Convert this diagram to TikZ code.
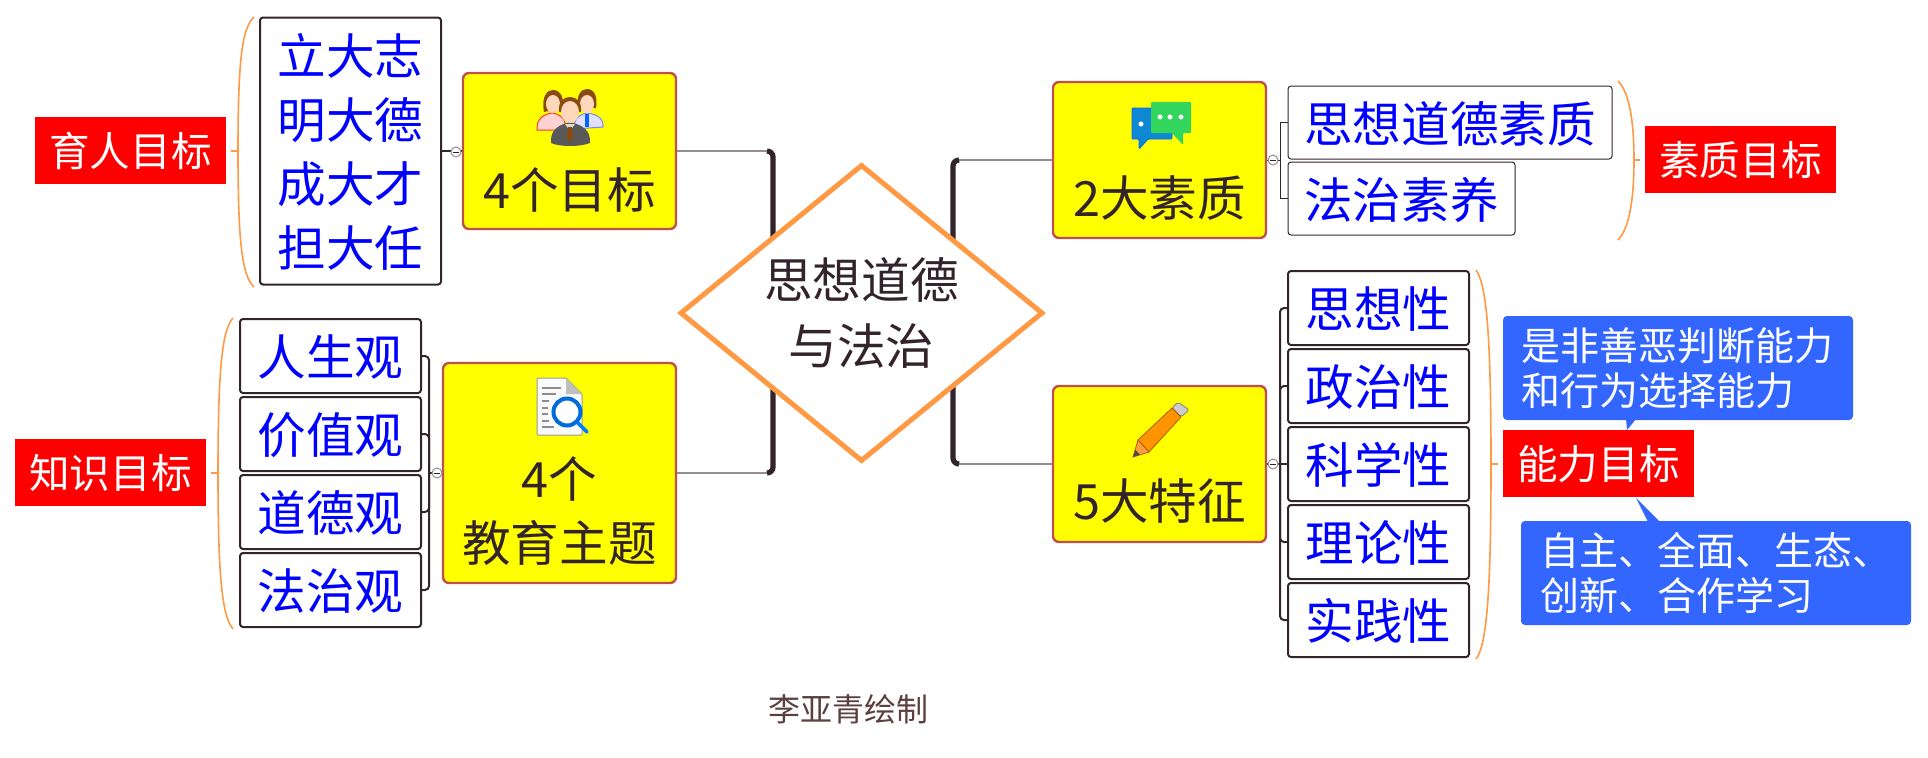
\documentclass[tikz,border=0pt]{standalone}
\usepackage{fontspec}
\setmainfont{Noto Sans CJK SC}
\usetikzlibrary{shapes.geometric}
\definecolor{inkdark}{HTML}{33242B}
\definecolor{goalred}{HTML}{C0504D}
\definecolor{goalfill}{RGB}{255,255,0}
\definecolor{bluenote}{HTML}{3366FF}
\definecolor{bracecolor}{HTML}{FF9944}
\definecolor{greyline}{HTML}{948E94}
\definecolor{footbrown}{HTML}{5C4040}
\definecolor{hairbrown}{HTML}{8A4A10}
\definecolor{skin}{HTML}{FFD8BC}
\tikzset{
  leafbox/.style={draw=inkdark, line width=1pt, fill=white, rounded corners=1.5pt, text=blue, text depth=1pt,
                  font=\fontsize{24.3}{32}\selectfont, align=center, inner sep=0pt},
  thinleaf/.style={leafbox, line width=0.5pt},
  goalbox/.style={draw=goalred, line width=1.2pt, fill=goalfill, rounded corners=3pt, inner sep=0pt},
  goaltext/.style={text=inkdark, text depth=1pt, font=\fontsize{24.3}{32}\selectfont, inner sep=0pt},
  redlabel/.style={fill=red, text=white, text depth=1pt, font=\fontsize{20.3}{24}\selectfont, inner sep=0pt,
                   minimum width=95.5pt, minimum height=33.5pt},
  bluecall/.style={fill=bluenote, text=white, rounded corners=2pt, align=left,
                   font=\fontsize{19.5}{22.5}\selectfont, inner ysep=0pt},
  forkline/.style={draw=inkdark, line width=1pt, rounded corners=2pt},
  thinfork/.style={draw=inkdark, line width=0.5pt},
  greyconn/.style={draw=greyline, line width=1pt},
  barline/.style={draw=inkdark, line width=2.6pt, rounded corners=3pt},
  bracket/.style={draw=bracecolor, line width=0.8pt},
  collapse/.style={circle, draw=greyline, line width=0.5pt, fill=white, minimum size=5pt, inner sep=0pt,
                   path picture={\draw[inkdark, line width=0.3pt] ([xshift=1pt]path picture bounding box.west) -- ([xshift=-1pt]path picture bounding box.east);}},
}
\begin{document}
\begin{tikzpicture}[x=0.5pt,y=-0.5pt]
\useasboundingbox (0,0) rectangle (1928,757);

% Trunks behind the centre
\node[goalbox, minimum width=106.5pt, minimum height=78pt] (mubiao) at (569.5,151) {};
\node[goalbox, minimum width=116.5pt, minimum height=110pt] (zhuti) at (559.5,473) {};
\node[goalbox, minimum width=106.5pt, minimum height=78pt] (suzhi) at (1159.5,160) {};
\node[goalbox, minimum width=106.5pt, minimum height=78pt] (tezheng) at (1159.5,464) {};
\coordinate (barA) at (773,250);
\coordinate (barB) at (773,380);
\coordinate (barC) at (953,250);
\coordinate (barD) at (953,380);
\draw[greyconn] (mubiao.east) -- (768,151);
\draw[greyconn] (zhuti.east) -- (768,473);
\draw[greyconn] (suzhi.west) -- (958,160);
\draw[greyconn] (tezheng.west) -- (958,464);
\draw[barline] (767,151) -| (barA);
\draw[barline] (767,473) -| (barB);
\draw[barline] (959,160) -| (barC);
\draw[barline] (959,464) -| (barD);

% Centre
\node[diamond, draw=bracecolor, line width=2.5pt, fill=white, aspect=1.222, inner sep=0pt,
      minimum width=181.5pt, minimum height=148.5pt, text=inkdark, align=center,
      font=\fontsize{24.3}{33}\selectfont] (centre) at (861.5,313) {思想道德\\与法治};

% Goal texts
\node[goaltext] (mubiaot) at (569.5,189) {4个目标};
\node[goaltext] (zhutia) at (559.5,478) {4个};
\node[goaltext] (zhutib) at (559.5,542) {教育主题};
\node[goaltext] (suzhit) at (1159.5,197) {2大素质};
\node[goaltext] (tezhengt) at (1159.5,500) {5大特征};

% Upper left branch
\node[leafbox, minimum width=90.5pt, minimum height=133.5pt] (zhixiang) at (350.5,151) {立大志\\明大德\\成大才\\担大任};
\draw[forkline] (zhixiang.east) -- (mubiao.west);
\node[collapse] (foldA) at (456,152) {};
\node[redlabel] (yuren) at (130.5,150.5) {育人目标};
\draw[bracket] (254,17) .. controls (242,28) and (238,60) .. (238,151) .. controls (238,242) and (242,276) .. (254,287);
\draw[bracket] (231,151) -- (238,151);

% Lower left branch
\foreach \n/\y/\t in {1/356/人生观, 2/434/价值观, 3/512/道德观, 4/590/法治观}
  \node[leafbox, minimum width=90.5pt, minimum height=37pt] (guan\n) at (330.5,\y) {\t};
\coordinate (forkB) at (429,473);
\draw[forkline] (guan1.east) -| (forkB) |- (guan4.east);
\draw[forkline] (guan2.east) -| (forkB);
\draw[forkline] (guan3.east) -| (forkB);
\draw[forkline] (forkB) -- (zhuti.west);
\node[collapse] (foldB) at (437,473) {};
\node[redlabel] (zhishi) at (110.5,472.5) {知识目标};
\draw[bracket] (233,318) .. controls (222,330) and (218,370) .. (218,473) .. controls (218,576) and (222,616) .. (233,629);
\draw[bracket] (211,473) -- (218,473);

% Upper right branch
\node[thinleaf, minimum width=162pt, minimum height=36.5pt] (sixiang) at (1450,122.5) {思想道德素质};
\node[thinleaf, minimum width=113.5pt, minimum height=36.5pt] (fazhi) at (1401.5,198.5) {法治素养};
\coordinate (forkC) at (1280,160);
\draw[thinfork] (sixiang.west) -| (forkC) |- (fazhi.west);
\draw[thinfork] (suzhi.east) -- (forkC);
\node[collapse] (foldC) at (1273,160) {};
\node[redlabel] (suzhil) at (1740.5,159.5) {素质目标};
\draw[bracket] (1618,81) .. controls (1629,92) and (1634,120) .. (1634,160) .. controls (1634,200) and (1629,229) .. (1618,240);
\draw[bracket] (1634,160) -- (1640,160);

% Lower right branch
\foreach \n/\y/\t in {1/308/思想性, 2/386/政治性, 3/464/科学性, 4/542/理论性, 5/620/实践性}
  \node[leafbox, minimum width=90.5pt, minimum height=37pt] (xing\n) at (1378.5,\y) {\t};
\coordinate (forkD) at (1280,464);
\draw[forkline] (xing1.west) -| (forkD) |- (xing5.west);
\draw[forkline] (xing2.west) -| (forkD);
\draw[forkline] (xing4.west) -| (forkD);
\draw[forkline] (tezheng.east) -- (xing3.west);
\node[collapse] (foldD) at (1273,464) {};
\draw[bracket] (1476,270) .. controls (1487,285) and (1491,340) .. (1491,464) .. controls (1491,590) and (1487,645) .. (1476,659);
\draw[bracket] (1491,464) -- (1498,464);
\node[redlabel] (nengli) at (1598.5,463.5) {能力目标};

% Blue notes
\fill[bluenote] (1626,419) -- (1636,419) -- (1627,430) -- cycle;
\fill[bluenote] (1636,498) -- (1648,522) -- (1660,522) -- cycle;
\node[bluecall, text width=157pt, inner xsep=9pt, minimum height=52pt] (noteA) at (1678,368) {是非善恶判断能力\\和行为选择能力};
\node[bluecall, text width=175.5pt, inner xsep=9.75pt, minimum height=52pt] (noteB) at (1716,573) {自主、全面、生态、\\创新、合作学习};

% Icon: three people
\fill[pink!70, draw=red!80, line width=0.5pt] (537,130) .. controls (536,118) and (545,114) .. (552,113) .. controls (560,114) and (566,118) .. (566,130) -- cycle;
\fill[hairbrown] (544,112) .. controls (541,95) and (548,90) .. (553,90) .. controls (560,90) and (564,96) .. (563,108) -- cycle;
\fill[skin] (553,104) ellipse (7 and 9);
\fill[blue!12, draw=blue!50, line width=0.5pt] (603,127) .. controls (604,118) and (596,114) .. (587,113) .. controls (580,114) and (574,118) .. (574,129) -- cycle;
\fill[hairbrown] (578,108) .. controls (576,95) and (581,89) .. (587,89) .. controls (594,89) and (598,96) .. (596,108) -- cycle;
\fill[skin] (587,104) ellipse (7 and 9);
\fill[blue!60!cyan] (585,114) -- (589,114) -- (589,127) -- (585,127) -- cycle;
\fill[black!65] (551,143) .. controls (550,130) and (558,125) .. (570,122) .. controls (582,125) and (591,130) .. (590,143) .. controls (580,147) and (560,147) .. (551,143) -- cycle;
\fill[hairbrown] (559,112) .. controls (558,101) and (564,97) .. (570,97) .. controls (577,97) and (582,102) .. (581,112) -- cycle;
\fill[skin] (570,112) ellipse (9 and 11);
\fill[white!85!black] (565,124) -- (575,124) -- (570,131) -- cycle;
\fill[hairbrown] (568,127) -- (572,127) -- (573,138) -- (570,142) -- (567,138) -- cycle;

% Icon: page and magnifier
\fill[white!96!gray, draw=black!40, line width=0.5pt, rounded corners=0.5pt] (537,378) -- (566,378) -- (582,394) -- (582,435) -- (537,435) -- cycle;
\fill[black!25] (566,378) -- (582,394) -- (566,394) -- cycle;
\foreach \y/\e in {388/561, 394/556, 401/549, 408/548, 414/548, 421/549, 427/554}
  \draw[black!45, line width=0.7pt] (542,\y) -- (\e,\y);
\draw[blue!50!cyan, line width=1.8pt, line cap=round] (577,422) -- (587,432);
\draw[blue!50!cyan!85!black, line width=2pt, fill=white] (567,412) circle (13.5);

% Icon: chat
\fill[cyan!70!blue, draw=blue!60!cyan, line width=0.4pt, rounded corners=0.5pt] (1132,108) -- (1172,108) -- (1172,139) -- (1148,139) -- (1139,149) -- (1139,139) -- (1132,139) -- cycle;
\fill[white] (1141,124) circle (2.5);
\fill[green!60!teal!80!white, rounded corners=0.5pt] (1151,102) -- (1191,102) -- (1191,133) -- (1183,133) -- (1183,145) -- (1172,133) -- (1151,133) -- cycle;
\foreach \x in {1160,1170,1181}
  \fill[white] (\x,117) circle (2.5);

% Icon: pencil
\fill[gray!40, draw=gray, line width=0.4pt, rounded corners=1pt] (1172,408) -- (1178,402) -- (1189,410) -- (1181,417) -- cycle;
\fill[orange!85!yellow, draw=orange!70!black, line width=0.4pt] (1138,440) -- (1172,408) -- (1181,417) -- (1149,452) -- cycle;
\fill[orange!75!white, draw=orange!70!black, line width=0.4pt] (1138,440) -- (1149,452) -- (1133,457) -- cycle;
\fill[black!70] (1135.5,450) -- (1140,454.5) -- (1133,457) -- cycle;

% Footer
\node[text=footbrown, font=\fontsize{16}{20}\selectfont, inner sep=0pt] (footer) at (848,709) {李亚青绘制};

\end{tikzpicture}
\end{document}
